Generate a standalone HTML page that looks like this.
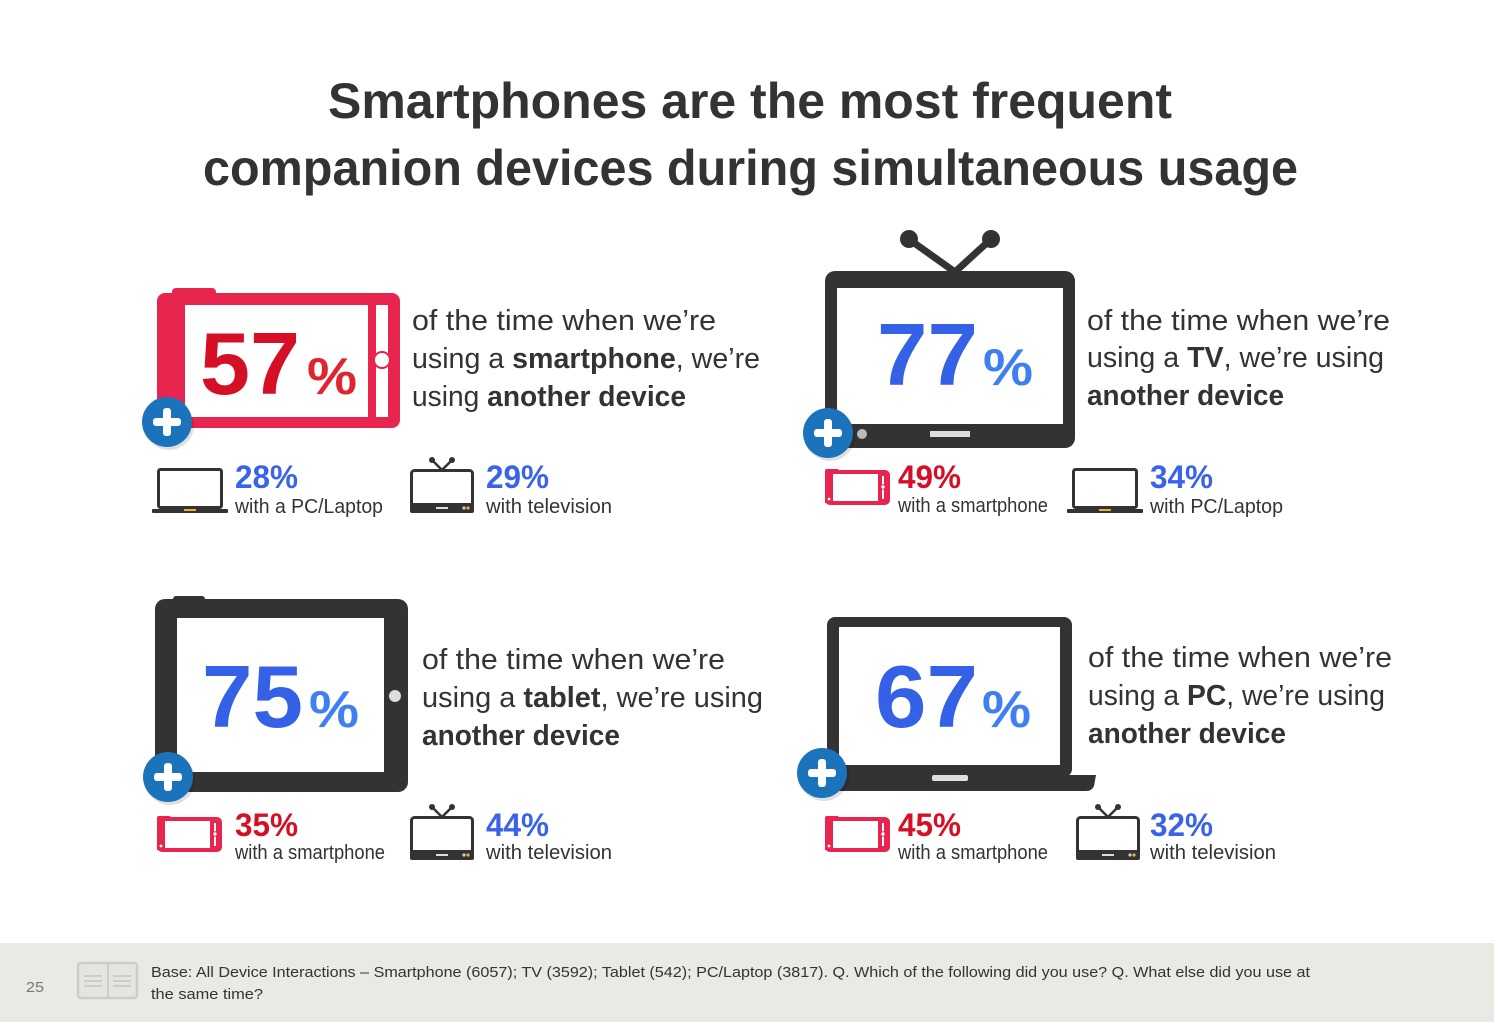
<!DOCTYPE html>
<html><head><meta charset="utf-8"><style>
html,body{margin:0;padding:0;background:#fff;}
svg{display:block;font-family:"Liberation Sans",sans-serif;}
</style></head><body>
<svg width="1494" height="1022" viewBox="0 0 1494 1022" xmlns="http://www.w3.org/2000/svg">
<defs>
  <symbol id="lap" viewBox="0 0 76 46" width="76" height="46" overflow="visible">
    <rect x="6.5" y="1.5" width="63" height="38" rx="2" fill="#fff" stroke="#333" stroke-width="3"/>
    <rect x="0" y="41" width="76" height="4" rx="1" fill="#333"/>
    <rect x="32" y="41" width="12" height="2" fill="#e2b23a"/>
  </symbol>
  <symbol id="tv" viewBox="0 0 64 56" width="64" height="56" overflow="visible">
    <line x1="32" y1="13" x2="23" y2="4" stroke="#333" stroke-width="2.5"/>
    <line x1="32" y1="13" x2="41" y2="4" stroke="#333" stroke-width="2.5"/>
    <circle cx="22" cy="3" r="3" fill="#333"/><circle cx="42" cy="3" r="3" fill="#333"/>
    <rect x="1.5" y="13.5" width="61" height="40" rx="3" fill="#fff" stroke="#333" stroke-width="3"/>
    <rect x="0" y="46" width="64" height="10" rx="2" fill="#333"/>
    <rect x="26" y="50" width="12" height="2" fill="#ddd"/>
    <circle cx="54" cy="51" r="1.6" fill="#ccc"/><circle cx="58" cy="51" r="1.6" fill="#e2b23a"/>
  </symbol>
  <symbol id="ph" viewBox="0 0 65 38" width="65" height="38" overflow="visible">
    <rect x="0" y="1" width="14" height="5" rx="2" fill="#e8254f"/>
    <rect x="2" y="4" width="61" height="31" rx="3" fill="#fff" stroke="#e8254f" stroke-width="4"/>
    <rect x="0" y="4" width="8" height="31" fill="#e8254f"/>
    <rect x="53" y="4" width="10" height="31" fill="#e8254f"/>
    <line x1="58" y1="8" x2="58" y2="31" stroke="#fff" stroke-width="2"/>
    <circle cx="58" cy="19" r="2.2" fill="#fff" stroke="#e8254f" stroke-width="1"/>
    <circle cx="4" cy="31" r="1.4" fill="#fff"/>
  </symbol>
  <symbol id="plus" viewBox="-27 -27 54 54" width="54" height="54" overflow="visible">
    <circle cx="2" cy="3" r="25" fill="#000" opacity="0.12"/>
    <circle cx="0" cy="0" r="25" fill="#1a73bb"/>
    <rect x="-4" y="-14" width="8" height="28" rx="3" fill="#fff"/>
    <rect x="-14" y="-4" width="28" height="8" rx="3" fill="#fff"/>
  </symbol>
</defs>

<text x="328" y="118" font-size="50" font-weight="bold" fill="#333" textLength="844" lengthAdjust="spacingAndGlyphs">Smartphones are the most frequent</text>
<text x="203" y="185" font-size="50" font-weight="bold" fill="#333" textLength="1095" lengthAdjust="spacingAndGlyphs">companion devices during simultaneous usage</text>

<rect x="172" y="288" width="44" height="12" rx="4" fill="#e8254f"/>
<rect x="157" y="293" width="243" height="135" rx="8" fill="#e8254f"/>
<rect x="185" y="305" width="183" height="112" fill="#fff"/>
<rect x="376" y="305" width="12" height="112" fill="#fff"/>
<circle cx="382" cy="360" r="8" fill="#fff" stroke="#e8254f" stroke-width="2"/>
<text x="200" y="394" font-size="88" font-weight="bold" fill="#d50f25" textLength="100" lengthAdjust="spacingAndGlyphs">57</text>
<text x="307" y="394" font-size="52" font-weight="bold" fill="#e0252f" textLength="50" lengthAdjust="spacingAndGlyphs">%</text>
<use href="#plus" x="140" y="395"/>
<text x="412" y="330" font-size="29" fill="#333" textLength="304" lengthAdjust="spacingAndGlyphs">of the time when we’re</text>
<text x="412" y="368" font-size="29" fill="#333" textLength="348" lengthAdjust="spacingAndGlyphs">using a <tspan font-weight="bold">smartphone</tspan>, we’re</text>
<text x="412" y="406" font-size="29" fill="#333" textLength="274" lengthAdjust="spacingAndGlyphs">using <tspan font-weight="bold">another device</tspan></text>
<use href="#lap" x="152" y="468"/>
<text x="235" y="488" font-size="32" font-weight="bold" fill="#3a63e8" textLength="63" lengthAdjust="spacingAndGlyphs">28%</text>
<text x="235" y="513" font-size="20" fill="#333" textLength="148" lengthAdjust="spacingAndGlyphs">with a PC/Laptop</text>
<use href="#tv" x="410" y="457"/>
<text x="486" y="488" font-size="32" font-weight="bold" fill="#3a63e8" textLength="63" lengthAdjust="spacingAndGlyphs">29%</text>
<text x="486" y="513" font-size="20" fill="#333" textLength="126" lengthAdjust="spacingAndGlyphs">with television</text>

<line x1="955" y1="272" x2="910" y2="240" stroke="#333" stroke-width="7"/>
<line x1="955" y1="272" x2="990" y2="240" stroke="#333" stroke-width="7"/>
<circle cx="909" cy="239" r="9" fill="#333"/><circle cx="991" cy="239" r="9" fill="#333"/>
<rect x="825" y="271" width="250" height="177" rx="10" fill="#333"/>
<rect x="837" y="288" width="226" height="136" fill="#fff"/>
<rect x="930" y="431" width="40" height="6" fill="#ddd"/>
<circle cx="862" cy="434" r="5" fill="#bbb"/>
<text x="877" y="385" font-size="88" font-weight="bold" fill="#3461e6" textLength="101" lengthAdjust="spacingAndGlyphs">77</text>
<text x="983" y="385" font-size="52" font-weight="bold" fill="#3f7ff0" textLength="50" lengthAdjust="spacingAndGlyphs">%</text>
<use href="#plus" x="801" y="406"/>
<text x="1087" y="330" font-size="29" fill="#333" textLength="303" lengthAdjust="spacingAndGlyphs">of the time when we’re</text>
<text x="1087" y="367" font-size="29" fill="#333" textLength="297" lengthAdjust="spacingAndGlyphs">using a <tspan font-weight="bold">TV</tspan>, we’re using</text>
<text x="1087" y="405" font-size="29" font-weight="bold" fill="#333" textLength="197" lengthAdjust="spacingAndGlyphs">another device</text>
<use href="#ph" x="825" y="468"/>
<text x="898" y="488" font-size="32" font-weight="bold" fill="#d50f25" textLength="63" lengthAdjust="spacingAndGlyphs">49%</text>
<text x="898" y="512" font-size="20" fill="#333" textLength="150" lengthAdjust="spacingAndGlyphs">with a smartphone</text>
<use href="#lap" x="1067" y="468"/>
<text x="1150" y="488" font-size="32" font-weight="bold" fill="#3a63e8" textLength="63" lengthAdjust="spacingAndGlyphs">34%</text>
<text x="1150" y="513" font-size="20" fill="#333" textLength="133" lengthAdjust="spacingAndGlyphs">with PC/Laptop</text>

<rect x="173" y="596" width="32" height="8" rx="3" fill="#333"/>
<rect x="155" y="599" width="253" height="193" rx="10" fill="#333"/>
<rect x="177" y="618" width="207" height="154" fill="#fff"/>
<circle cx="395" cy="696" r="6" fill="#ddd"/>
<text x="202" y="727" font-size="88" font-weight="bold" fill="#3461e6" textLength="101" lengthAdjust="spacingAndGlyphs">75</text>
<text x="309" y="727" font-size="52" font-weight="bold" fill="#3f7ff0" textLength="50" lengthAdjust="spacingAndGlyphs">%</text>
<use href="#plus" x="141" y="750"/>
<text x="422" y="669" font-size="29" fill="#333" textLength="303" lengthAdjust="spacingAndGlyphs">of the time when we’re</text>
<text x="422" y="707" font-size="29" fill="#333" textLength="341" lengthAdjust="spacingAndGlyphs">using a <tspan font-weight="bold">tablet</tspan>, we’re using</text>
<text x="422" y="745" font-size="29" font-weight="bold" fill="#333" textLength="198" lengthAdjust="spacingAndGlyphs">another device</text>
<use href="#ph" x="157" y="815"/>
<text x="235" y="836" font-size="32" font-weight="bold" fill="#d50f25" textLength="63" lengthAdjust="spacingAndGlyphs">35%</text>
<text x="235" y="859" font-size="20" fill="#333" textLength="150" lengthAdjust="spacingAndGlyphs">with a smartphone</text>
<use href="#tv" x="410" y="804"/>
<text x="486" y="836" font-size="32" font-weight="bold" fill="#3a63e8" textLength="63" lengthAdjust="spacingAndGlyphs">44%</text>
<text x="486" y="859" font-size="20" fill="#333" textLength="126" lengthAdjust="spacingAndGlyphs">with television</text>

<rect x="827" y="617" width="245" height="160" rx="8" fill="#333"/>
<rect x="839" y="627" width="221" height="138" fill="#fff"/>
<path d="M818 775 H1096 L1094 786 Q1092 791 1086 791 H828 Q820 791 819 786 Z" fill="#333"/>
<rect x="932" y="775" width="36" height="6" rx="2" fill="#ddd"/>
<text x="875" y="727" font-size="88" font-weight="bold" fill="#3461e6" textLength="103" lengthAdjust="spacingAndGlyphs">67</text>
<text x="982" y="727" font-size="52" font-weight="bold" fill="#3f7ff0" textLength="49" lengthAdjust="spacingAndGlyphs">%</text>
<use href="#plus" x="795" y="746"/>
<text x="1088" y="667" font-size="29" fill="#333" textLength="304" lengthAdjust="spacingAndGlyphs">of the time when we’re</text>
<text x="1088" y="705" font-size="29" fill="#333" textLength="297" lengthAdjust="spacingAndGlyphs">using a <tspan font-weight="bold">PC</tspan>, we’re using</text>
<text x="1088" y="743" font-size="29" font-weight="bold" fill="#333" textLength="198" lengthAdjust="spacingAndGlyphs">another device</text>
<use href="#ph" x="825" y="815"/>
<text x="898" y="836" font-size="32" font-weight="bold" fill="#d50f25" textLength="63" lengthAdjust="spacingAndGlyphs">45%</text>
<text x="898" y="859" font-size="20" fill="#333" textLength="150" lengthAdjust="spacingAndGlyphs">with a smartphone</text>
<use href="#tv" x="1076" y="804"/>
<text x="1150" y="836" font-size="32" font-weight="bold" fill="#3a63e8" textLength="63" lengthAdjust="spacingAndGlyphs">32%</text>
<text x="1150" y="859" font-size="20" fill="#333" textLength="126" lengthAdjust="spacingAndGlyphs">with television</text>

<rect x="0" y="943" width="1494" height="79" fill="#ebe9e3"/>
<text x="26" y="992" font-size="15" fill="#777" textLength="18" lengthAdjust="spacingAndGlyphs">25</text>
<rect x="78" y="963" width="59" height="35" rx="3" fill="#e6e4df" stroke="#ccc" stroke-width="2.5"/>
<line x1="108" y1="963" x2="108" y2="998" stroke="#ccc" stroke-width="2"/>
<g stroke="#ccc" stroke-width="2">
<line x1="84" y1="976" x2="102" y2="976"/><line x1="84" y1="981" x2="102" y2="981"/><line x1="84" y1="986" x2="102" y2="986"/>
<line x1="113" y1="976" x2="131" y2="976"/><line x1="113" y1="981" x2="131" y2="981"/><line x1="113" y1="986" x2="131" y2="986"/>
</g>
<text x="151" y="977" font-size="15" fill="#333" textLength="1159" lengthAdjust="spacingAndGlyphs">Base: All Device Interactions – Smartphone (6057); TV (3592); Tablet (542); PC/Laptop (3817). Q. Which of the following did you use? Q. What else did you use at</text>
<text x="151" y="999" font-size="15" fill="#333" textLength="112" lengthAdjust="spacingAndGlyphs">the same time?</text>
</svg>
</body></html>
